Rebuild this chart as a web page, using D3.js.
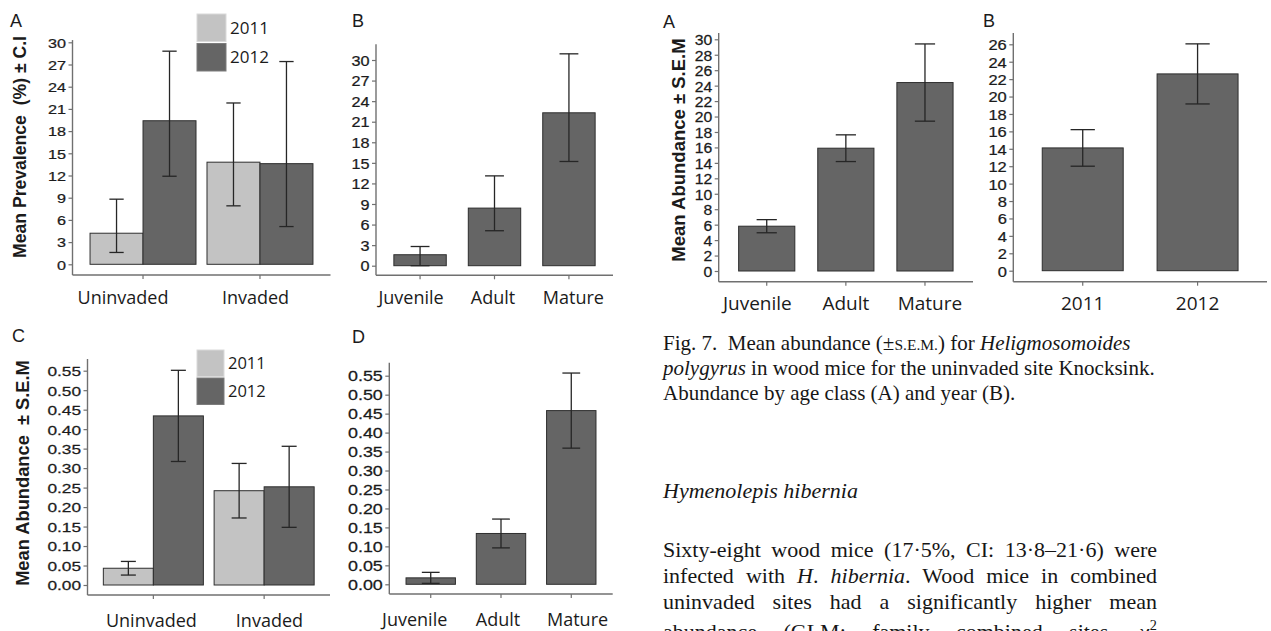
<!DOCTYPE html>
<html>
<head>
<meta charset="utf-8">
<script src="https://cdn.jsdelivr.net/npm/d3@7"></script>
<style>
  html, body { margin: 0; padding: 0; background: #fff; }
  svg { display: block; }
</style>
</head>
<body>
<script>
// ---------- data ----------
const sites = ["Uninvaded", "Invaded"];
const years = ["2011", "2012"];
const ageClasses = ["Juvenile", "Adult", "Mature"];

// H. hibernia prevalence (%) by site and year, 95% CI
const prevSite2011   = [4.2, 13.8];
const prevSite2011Lo = [1.6, 7.9];
const prevSite2011Hi = [8.8, 21.8];
const prevSite2012   = [19.4, 13.6];
const prevSite2012Lo = [11.9, 5.1];
const prevSite2012Hi = [28.8, 27.4];

// H. hibernia prevalence (%) by age class, 95% CI
const prevAge   = [1.6, 8.4, 22.3];
const prevAgeLo = [0.0, 5.1, 15.2];
const prevAgeHi = [2.8, 13.1, 30.9];

// H. hibernia mean abundance ± SEM by site and year
const abunSite2011    = [0.043, 0.242];
const abunSite2011Sem = [0.0175, 0.070];
const abunSite2012    = [0.434, 0.252];
const abunSite2012Sem = [0.117, 0.104];

// H. hibernia mean abundance ± SEM by age class
const abunAge    = [0.017, 0.134, 0.458];
const abunAgeSem = [0.0145, 0.038, 0.099];

// Fig. 7: H. polygyrus mean abundance ± SEM at Knocksink
const hpAge     = [5.8, 15.9, 24.4];
const hpAgeSem  = [0.85, 1.73, 5.0];
const hpYear    = [14.1, 22.6];
const hpYearSem = [2.1, 3.45];

// tick values
const ticksPrev   = d3.range(0, 31, 3);
const ticksAbun   = d3.range(0, 12).map(i => i * 0.05);
const ticksHpAge  = d3.range(0, 31, 2);
const ticksHpYear = d3.range(0, 27, 2);

// ---------- style ----------
const DARK = "#656565", LIGHT = "#c3c3c3", EDGE = "#2e2e2e";
const AXIS = "#707070", INK = "#1b1b1b";
const SANS = "'Liberation Sans', Arial, sans-serif";
const LABEL_FONT = "'Open Sans', 'Noto Sans', sans-serif";
const SERIF = "'Liberation Serif', 'Times New Roman', serif";

const svg = d3.select("body").append("svg")
  .attr("width", 1271).attr("height", 631);

const withSem = (v, s) => ({ lo: v.map((d, i) => d - s[i]), hi: v.map((d, i) => d + s[i]) });

function drawPanel(p) {
  const g = svg.append("g");
  const x = d3.scaleBand().domain(p.categories)
    .range([p.x0, p.x1]).paddingInner(p.padInner).paddingOuter(p.padOuter);
  const y = d3.scaleLinear().domain([0, p.yTop]).range([p.y0, p.y1]);
  const sub = d3.scaleBand().domain(p.series.map(s => s.key)).range([0, x.bandwidth()]);
  const bw = sub.bandwidth();

  // bars
  p.series.forEach(s => {
    const rows = p.categories.map((c, i) => ({ c, v: s.values[i], lo: s.lo[i], hi: s.hi[i] }));
    g.append("g").selectAll("rect").data(rows).join("rect")
      .attr("x", d => x(d.c) + sub(s.key))
      .attr("y", d => y(d.v))
      .attr("width", bw)
      .attr("height", d => y(0) - y(d.v))
      .attr("fill", s.fill)
      .attr("stroke", EDGE).attr("stroke-width", 1);

    const eb = g.append("g").attr("stroke", "#262626").attr("stroke-width", 1.3).attr("fill", "none");
    const cx = d => x(d.c) + sub(s.key) + bw / 2;
    const cw = bw * p.capFrac / 2;
    eb.selectAll("line.v").data(rows).join("line").attr("class", "v")
      .attr("x1", cx).attr("x2", cx).attr("y1", d => y(d.lo)).attr("y2", d => y(d.hi));
    eb.selectAll("line.t").data(rows).join("line").attr("class", "t")
      .attr("x1", d => cx(d) - cw).attr("x2", d => cx(d) + cw)
      .attr("y1", d => y(d.hi)).attr("y2", d => y(d.hi));
    eb.selectAll("line.b").data(rows).join("line").attr("class", "b")
      .attr("x1", d => cx(d) - cw).attr("x2", d => cx(d) + cw)
      .attr("y1", d => y(d.lo)).attr("y2", d => y(d.lo));
  });

  // y axis
  const ya = g.append("g").attr("transform", `translate(${p.x0},0)`)
    .call(d3.axisLeft(y).tickValues(p.ticks).tickSize(4).tickPadding(3).tickFormat(p.fmt));
  ya.select(".domain").remove();
  ya.selectAll(".tick line").attr("stroke", AXIS).attr("stroke-width", 1.2);
  ya.selectAll(".tick text")
    .attr("x", 0).attr("dy", "0.36em")
    .attr("transform", `translate(-6.5,0) scale(${p.tickScaleX},1)`)
    .attr("font-family", SANS).attr("font-size", p.tickFont).attr("fill", INK)
    .attr("stroke", INK).attr("stroke-width", 0.25);
  g.append("line")
    .attr("x1", p.x0).attr("x2", p.x0)
    .attr("y1", p.axisY).attr("y2", y(p.lineTop))
    .attr("stroke", AXIS).attr("stroke-width", 1.4);

  // x axis
  g.append("line")
    .attr("x1", p.x0).attr("x2", p.x1)
    .attr("y1", p.axisY).attr("y2", p.axisY)
    .attr("stroke", AXIS).attr("stroke-width", 1.4);
  g.append("g").selectAll("line").data(p.categories).join("line")
    .attr("x1", c => x(c) + x.bandwidth() / 2).attr("x2", c => x(c) + x.bandwidth() / 2)
    .attr("y1", p.axisY).attr("y2", p.axisY + 4)
    .attr("stroke", AXIS).attr("stroke-width", 1.2);
  g.append("g").selectAll("text").data(p.categories).join("text")
    .attr("x", (c, i) => x(c) + x.bandwidth() / 2 + p.labelShift[i])
    .attr("y", p.labelY)
    .attr("text-anchor", "middle")
    .attr("font-family", LABEL_FONT).attr("font-size", p.labelSize).attr("fill", INK)
    .text(c => c);

  // panel letter
  g.append("text").attr("x", p.letter.x).attr("y", p.letter.y)
    .attr("font-family", SANS).attr("font-size", 18).attr("fill", INK)
    .text(p.letter.t);

  // y title
  if (p.title) {
    g.append("text")
      .attr("transform", `translate(${p.title.x},${p.title.y}) rotate(-90)`)
      .attr("dy", "0.36em")
      .attr("text-anchor", "middle")
      .attr("font-family", SANS).attr("font-weight", "bold")
      .attr("font-size", p.title.size).attr("fill", INK)
      .style("white-space", "pre")
      .text(p.title.text);
  }

  // legend
  if (p.legend) {
    const L = p.legend;
    const lg = g.append("g");
    p.series.forEach((s, i) => {
      const top = L.y + i * (L.h + L.gap);
      lg.append("rect").attr("x", L.x).attr("y", top).attr("width", L.w).attr("height", L.h)
        .attr("fill", s.fill).attr("stroke", i === 0 ? "#dadada" : "#7c7c7c").attr("stroke-width", 1);
      lg.append("text").attr("x", L.x + L.w + 4).attr("y", top + L.h / 2)
        .attr("dy", "0.36em")
        .attr("font-family", LABEL_FONT).attr("font-size", L.size).attr("fill", INK)
        .text(s.key);
    });
  }
}

const abun11 = withSem(abunSite2011, abunSite2011Sem);
const abun12 = withSem(abunSite2012, abunSite2012Sem);
const abunA  = withSem(abunAge, abunAgeSem);
const hpA    = withSem(hpAge, hpAgeSem);
const hpY    = withSem(hpYear, hpYearSem);

// A: prevalence by site and year
drawPanel({
  categories: sites, x0: 72.5, x1: 330.5, padInner: 0.094, padOuter: 0.15,
  yTop: 30, y0: 264.3, y1: 42.3, lineTop: 30.3, axisY: 275,
  ticks: ticksPrev, fmt: d3.format("d"), tickFont: 13.5, tickScaleX: 1.2,
  series: [
    { key: years[0], fill: LIGHT, values: prevSite2011, lo: prevSite2011Lo, hi: prevSite2011Hi },
    { key: years[1], fill: DARK,  values: prevSite2012, lo: prevSite2012Lo, hi: prevSite2012Hi }
  ],
  capFrac: 0.27, labelShift: [-20, -4.5], labelY: 304, labelSize: 18,
  letter: { x: 10, y: 27, t: "A" },
  title: { text: "Mean Prevalence  (%) ± C.I", x: 20, y: 147, size: 17.6 },
  legend: { x: 197, y: 14, w: 29, h: 27.5, gap: 2, size: 17 }
});

// B: prevalence by age class
drawPanel({
  categories: ageClasses, x0: 376, x1: 613, padInner: 0.296, padOuter: 0.24,
  yTop: 30, y0: 265.7, y1: 60, lineTop: 32.3, axisY: 275.3,
  ticks: ticksPrev, fmt: d3.format("d"), tickFont: 14.5, tickScaleX: 1.12,
  series: [{ key: "all", fill: DARK, values: prevAge, lo: prevAgeLo, hi: prevAgeHi }],
  capFrac: 0.36, labelShift: [-9, -1.5, 4.5], labelY: 303.5, labelSize: 18,
  letter: { x: 352, y: 27, t: "B" }
});

// C: abundance by site and year
drawPanel({
  categories: sites, x0: 87.5, x1: 330, padInner: 0.097, padOuter: 0.143,
  yTop: 0.55, y0: 585, y1: 370.7, lineTop: 0.58, axisY: 595,
  ticks: ticksAbun, fmt: d3.format(".2f"), tickFont: 13.5, tickScaleX: 1.28,
  series: [
    { key: years[0], fill: LIGHT, values: abunSite2011, lo: abun11.lo, hi: abun11.hi },
    { key: years[1], fill: DARK,  values: abunSite2012, lo: abun12.lo, hi: abun12.hi }
  ],
  capFrac: 0.3, labelShift: [-2, 5.3], labelY: 626.5, labelSize: 18,
  letter: { x: 12, y: 342, t: "C" },
  title: { text: "Mean Abundance  ± S.E.M", x: 22, y: 473, size: 18.3 },
  legend: { x: 197, y: 350, w: 27, h: 26.5, gap: 1.5, size: 16.5 }
});

// D: abundance by age class
drawPanel({
  categories: ageClasses, x0: 389.3, x1: 612.7, padInner: 0.297, padOuter: 0.238,
  yTop: 0.55, y0: 584.3, y1: 375.7, lineTop: 0.584, axisY: 594,
  ticks: ticksAbun, fmt: d3.format(".2f"), tickFont: 14, tickScaleX: 1.28,
  series: [{ key: "all", fill: DARK, values: abunAge, lo: abunA.lo, hi: abunA.hi }],
  capFrac: 0.36, labelShift: [-16, -3, 6.3], labelY: 625.5, labelSize: 18,
  letter: { x: 352, y: 343, t: "D" }
});

// Fig. 7 A: H. polygyrus abundance by age class
drawPanel({
  categories: ageClasses, x0: 718.7, x1: 973, padInner: 0.29, padOuter: 0.252,
  yTop: 30, y0: 271, y1: 39.3, lineTop: 30.8, axisY: 281.7,
  ticks: ticksHpAge, fmt: d3.format("d"), tickFont: 15, tickScaleX: 1.05,
  series: [{ key: "all", fill: DARK, values: hpAge, lo: hpA.lo, hi: hpA.hi }],
  capFrac: 0.36, labelShift: [-9.4, 0, 5], labelY: 310, labelSize: 19,
  letter: { x: 663, y: 28, t: "A" },
  title: { text: "Mean Abundance ± S.E.M", x: 678, y: 150, size: 18.5 }
});

// Fig. 7 B: H. polygyrus abundance by year
drawPanel({
  categories: years, x0: 1013.3, x1: 1267, padInner: 0.295, padOuter: 0.252,
  yTop: 26, y0: 270.7, y1: 44.3, lineTop: 27.3, axisY: 281.7,
  ticks: ticksHpYear, fmt: d3.format("d"), tickFont: 15, tickScaleX: 1.1,
  series: [{ key: "all", fill: DARK, values: hpYear, lo: hpY.lo, hi: hpY.hi }],
  capFrac: 0.3, labelShift: [0, 0], labelY: 310, labelSize: 19,
  letter: { x: 983, y: 27, t: "B" }
});

// ---------- caption and running text ----------
const textBlock = svg.append("g").attr("font-family", SERIF).attr("fill", "#161616");

function textLine(segs, x, y, size, justify) {
  const t = textBlock.append("text").attr("x", x).attr("y", y)
    .attr("font-size", size).style("white-space", "pre");
  segs.forEach(s => {
    const ts = t.append("tspan").text(s.t);
    if (s.i) ts.attr("font-style", "italic");
    if (s.sc) ts.attr("font-size", size * 0.74);
    if (s.sup) ts.attr("font-size", size * 0.65).attr("dy", -size * 0.4);
  });
  if (justify) {
    const natural = t.node().getComputedTextLength();
    const spaces = segs.map(s => s.t).join("").split(" ").length - 1;
    if (spaces > 0) t.style("word-spacing", ((justify - natural) / spaces) + "px");
  }
  return t;
}

const CX = 663, CAP = 21, BODY = 22, COLW = 494;
textLine([{ t: "Fig. 7.  Mean abundance (±" }, { t: "S.E.M.", sc: true }, { t: ") for " }, { t: "Heligmosomoides", i: true }], CX, 350, CAP);
textLine([{ t: "polygyrus", i: true }, { t: " in wood mice for the uninvaded site Knocksink." }], CX, 375, CAP);
textLine([{ t: "Abundance by age class (A) and year (B)." }], CX, 400, CAP);

textLine([{ t: "Hymenolepis hibernia", i: true }], CX, 498, BODY);

textLine([{ t: "Sixty-eight wood mice (17·5%, CI: 13·8–21·6) were" }], CX, 557, BODY, COLW);
textLine([{ t: "infected with " }, { t: "H", i: true }, { t: ". " }, { t: "hibernia", i: true }, { t: ". Wood mice in combined" }], CX, 583, BODY, COLW);
textLine([{ t: "uninvaded sites had a significantly higher mean" }], CX, 609, BODY, COLW);
textLine([{ t: "abundance (GLM: family combined sites, χ" }, { t: "2", sup: true }], CX, 639, BODY, COLW);
</script>
</body>
</html>
